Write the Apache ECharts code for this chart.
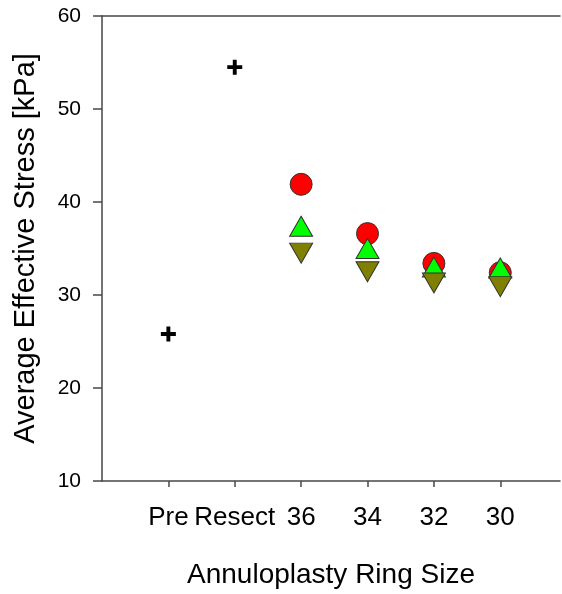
<!DOCTYPE html>
<html>
<head>
<meta charset="utf-8">
<script src="https://cdn.jsdelivr.net/npm/echarts@6/dist/echarts.min.js"></script>
<style>
html,body{margin:0;padding:0;background:#fff;}
#main{width:562px;height:594px;}
</style>
</head>
<body>
<div id="main"></div>
<script>
// categories on the x axis (placed at 1..6)
var categories = ['Pre', 'Resect', '36', '34', '32', '30'];
var catPos = [1, 2, 3, 4, 5, 6];
var yTicks = [10, 20, 30, 40, 50, 60];

// baseline values (Pre, Resect)
var baseVals = [25.8, 54.5];
// ring-size groups (36, 34, 32, 30)
var redCircle = [41.9, 36.6, 33.4, 32.4];
var greenUp = [37.4, 35.0, 33.0, 32.9];
var oliveDown = [34.5, 32.5, 31.3, 30.9];

function pts(vals, offset) {
	var out = [];
	for (var i = 0; i < vals.length; i++) {
		out.push([catPos[i + offset], vals[i]]);
	}
	return out;
}

var font = "'Liberation Sans', Arial, sans-serif";
var axisCol = '#474747';
var plusPath = 'path://M0.37,0H0.63V0.37H1V0.63H0.63V1H0.37V0.63H0V0.37H0.37Z';

var chart = echarts.init(document.getElementById('main'));
var option = {
	backgroundColor: '#fff',
	animation: false,
	grid: {left: 102, top: 16, right: 2, bottom: 113, containLabel: false},
	xAxis: [{
		type: 'value',
		min: 0, max: 6.9, interval: 1,
		name: 'Annuloplasty Ring Size',
		nameLocation: 'middle',
		nameGap: 80,
		nameTextStyle: {fontFamily: font, fontSize: 28, color: '#000'},
		axisLine: {show: true, lineStyle: {color: axisCol, width: 1.5}},
		axisTick: {show: true, length: 6, customValues: catPos, lineStyle: {color: axisCol, width: 1.5}},
		axisLabel: {
			customValues: catPos,
			margin: 24,
			fontFamily: font, fontSize: 26, color: '#000',
			formatter: function (v) { return categories[Math.round(v) - 1] || ''; }
		},
		splitLine: {show: false}
	}, {
		type: 'value',
		position: 'top',
		min: 0, max: 6.9,
		axisLine: {show: true, onZero: false, lineStyle: {color: axisCol, width: 1.5}},
		axisTick: {show: false},
		axisLabel: {show: false},
		splitLine: {show: false}
	}],
	yAxis: {
		type: 'value',
		min: yTicks[0], max: yTicks[yTicks.length - 1], interval: 10,
		name: 'Average Effective Stress [kPa]',
		nameLocation: 'middle',
		nameGap: 62,
		nameTextStyle: {fontFamily: font, fontSize: 29, color: '#000'},
		axisLine: {show: true, lineStyle: {color: axisCol, width: 1.5}},
		axisTick: {show: true, length: 9, lineStyle: {color: axisCol, width: 1.5}},
		axisLabel: {margin: 21, fontFamily: font, fontSize: 21, color: '#000'},
		splitLine: {show: false}
	},
	series: [{
		name: 'base',
		type: 'scatter',
		symbol: plusPath,
		symbolSize: 15,
		itemStyle: {color: '#000', opacity: 1},
		data: pts(baseVals, 0),
		z: 5
	}, {
		name: 'circle',
		type: 'scatter',
		symbol: 'circle',
		symbolSize: 22,
		itemStyle: {color: '#ff0000', borderColor: '#333', borderWidth: 1, opacity: 1},
		data: pts(redCircle, 2),
		z: 2
	}, {
		name: 'up',
		type: 'scatter',
		symbol: 'triangle',
		symbolSize: [23, 20],
		itemStyle: {color: '#00ff00', borderColor: '#333', borderWidth: 1, opacity: 1},
		data: pts(greenUp, 2),
		z: 3
	}, {
		name: 'down',
		type: 'scatter',
		symbol: 'triangle',
		symbolRotate: 180,
		symbolSize: [23, 20],
		itemStyle: {color: '#808000', borderColor: '#333', borderWidth: 1, opacity: 1},
		data: pts(oliveDown, 2),
		z: 4
	}]
};
chart.setOption(option);
</script>
</body>
</html>
